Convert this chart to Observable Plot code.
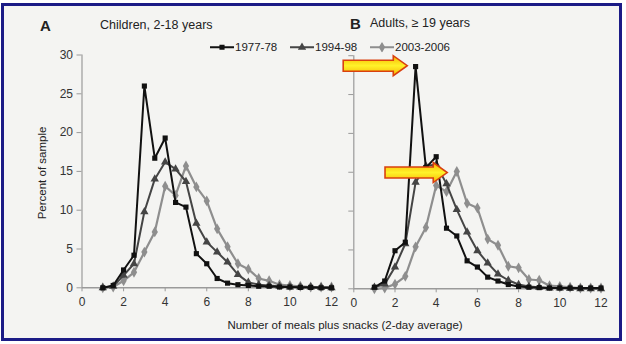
<!DOCTYPE html>
<html><head><meta charset="utf-8">
<script src="https://cdn.jsdelivr.net/npm/d3@7"></script>
<script src="https://cdn.jsdelivr.net/npm/@observablehq/plot@0.6"></script>
<style>
html,body{margin:0;padding:0;background:#fff;}
#wrap{position:relative;width:626px;height:344px;overflow:hidden;font-family:"Liberation Sans",Arial,sans-serif;color:#222;}
#frame{position:absolute;left:1px;top:3px;width:615px;height:332px;border:3px solid #1b1b86;background:#f4f4f2;}
.abs{position:absolute;white-space:nowrap;line-height:1;transform:translateY(-50%);}
.plot{position:absolute;left:0;top:0;}
.leg{display:inline-flex;align-items:center;}
</style></head><body>
<div id="wrap">
<div id="frame"></div>
<div id="pa" class="plot"></div>
<div id="pb" class="plot"></div>
<div class="abs" style="left:40px;top:25px;font-weight:bold;font-size:15px;">A</div>
<div class="abs" style="left:100px;top:25px;font-size:12.5px;">Children, 2-18 years</div>
<div class="abs" style="left:350px;top:23px;font-weight:bold;font-size:15px;">B</div>
<div class="abs" style="left:370px;top:23px;font-size:12.5px;">Adults, ≥ 19 years</div>
<div id="legend"></div>
<div class="abs" style="left:43px;top:173px;font-size:11.5px;transform:translate(-50%,-50%) rotate(-90deg);">Percent of sample</div>
<div class="abs" style="left:345px;top:326px;font-size:11.5px;transform:translate(-50%,-50%);">Number of meals plus snacks (2-day average)</div>
</div>
<script>
// x: number of meals plus snacks (2-day average)
const mealsX = [1,1.5,2,2.5,3,3.5,4,4.5,5,5.5,6,6.5,7,7.5,8,8.5,9,9.5,10,10.5,11,11.5,12];
const seriesNames = ["1977-78","1994-98","2003-2006"];
// Panel A: Children, 2-18 years (percent of sample)
const childA1977 = [0,0.3,2.3,4.2,26.0,16.7,19.3,11.0,10.4,4.4,3.1,1.2,0.6,0.4,0.3,0.2,0.2,0.1,0.1,0.05,0.05,0,0];
const childA1994 = [0,0.2,1.6,3.1,9.8,14.0,16.2,15.3,13.7,8.3,5.9,4.6,3.3,1.7,0.7,0.4,0.3,0.2,0.1,0.1,0.1,0.05,0];
const childA2003 = [0,0.1,0.9,2.0,4.6,7.2,13.1,11.9,15.7,13.0,11.2,7.6,5.3,3.1,2.4,1.2,0.9,0.4,0.3,0.2,0.1,0.1,0.1];
// Panel B: Adults, >= 19 years
const adultB1977 = [0.2,1.0,4.9,6.0,28.6,15.6,17.0,7.8,6.8,3.6,2.8,1.5,1.0,0.55,0.3,0.2,0.15,0.1,0.1,0.1,0.1,0.1,0.1];
const adultB1994 = [0.2,0.6,2.8,5.8,13.7,15.8,16.0,13.5,10.2,7.3,4.9,3.3,1.9,1.1,0.55,0.3,0.2,0.1,0.1,0.05,0,0,0];
const adultB2003 = [0,0.1,0.6,1.6,5.4,7.9,13.3,12.5,15.1,11.0,10.4,6.4,5.6,2.9,2.7,1.2,1.1,0.4,0.3,0.2,0.1,0.1,0.1];
const yTicks = [0,5,10,15,20,25,30];
const xTicks = [0,2,4,6,8,10,12];
// annotation arrows in panel B (data coordinates)
const arrowTailX = [-0.49, 1.54];
const arrowTipX = [2.62, 4.56];
const arrowY = [28.65, 14.9];

const styles = {
  "1977-78": {color:"#111", symbol:"square", r:2.9, width:2},
  "1994-98": {color:"#454545", symbol:"triangle", r:3.1, width:2},
  "2003-2006": {color:"#8e8e8e", symbol:"diamond", r:3.3, width:2.2}
};

function rows(vals){ return mealsX.map((x,i)=>({x, y: vals[i]})); }

function seriesMarks(data) {
  const out = [];
  for (const name of ["2003-2006","1994-98","1977-78"]) {
    const s = styles[name], d = rows(data[name]);
    out.push(Plot.line(d, {x:"x", y:"y", stroke:s.color, strokeWidth:s.width}));
    out.push(Plot.dot(d, {x:"x", y:"y", symbol:s.symbol, r:s.r, fill:s.color, stroke:"none"}));
  }
  return out;
}

function arrowMark() {
  return (index, scales) => {
    const g = d3.create("svg:g");
    const defs = g.append("defs");
    const grad = defs.append("linearGradient").attr("id","arrowGrad").attr("x1",0).attr("y1",0).attr("x2",0).attr("y2",1);
    grad.append("stop").attr("offset","0%").attr("stop-color","#f7b500");
    grad.append("stop").attr("offset","50%").attr("stop-color","#fff22a");
    grad.append("stop").attr("offset","100%").attr("stop-color","#f7b500");
    for (let i = 0; i < arrowTailX.length; i++) {
      const x1 = scales.x(arrowTailX[i]), x2 = scales.x(arrowTipX[i]), y = scales.y(arrowY[i]);
      const bh = 5.5, hh = 10, hl = 14, hx = x2 - hl;
      const d = `M${x1},${y-bh}L${hx},${y-bh}L${hx},${y-hh}L${x2},${y}L${hx},${y+hh}L${hx},${y+bh}L${x1},${y+bh}Z`;
      g.append("path").attr("d", d).attr("fill","url(#arrowGrad)").attr("stroke","#d9400f").attr("stroke-width",1.6).attr("stroke-linejoin","miter");
    }
    return g.node();
  };
}

function panel(data, m, showYText, extra) {
  return Plot.plot({
    width: 626, height: 344,
    marginLeft: m.l, marginRight: m.r, marginTop: m.t, marginBottom: m.b,
    x: {domain:[0,12]}, y: {domain:[0,30]},
    style: {background:"transparent", fontFamily:"'Liberation Sans', Arial, sans-serif", fontSize:"12px", overflow:"visible"},
    marks: [
      Plot.ruleX([0], {y1:0, y2:30, stroke:"#9a9a9a", strokeWidth:1.2}),
      Plot.ruleY([0], {x1:0, x2:12, stroke:"#9a9a9a", strokeWidth:1.5}),
      Plot.axisY(yTicks, {tickSize:5, tickPadding:4, label:null, stroke:"#9a9a9a", fill: showYText ? "#333" : "none"}),
      Plot.axisX(xTicks, {tickSize:4, tickPadding:6, label:null, stroke:"#9a9a9a", fill:"#333"}),
      ...seriesMarks(data),
      ...(extra || [])
    ]
  });
}

document.getElementById("pa").append(panel(
  {"1977-78":childA1977, "1994-98":childA1994, "2003-2006":childA2003},
  {l:81.5, r:295, t:54.5, b:56.7}, true));
document.getElementById("pb").append(panel(
  {"1977-78":adultB1977, "1994-98":adultB1994, "2003-2006":adultB2003},
  {l:353.3, r:25.5, t:55.2, b:55.7}, false, [arrowMark()]));

// legend
const legendLeft = [210, 290, 370];
const legend = document.getElementById("legend");
seriesNames.forEach((name, i) => {
  const s = styles[name];
  const div = document.createElement("div");
  div.className = "abs leg";
  div.style.left = legendLeft[i] + "px";
  div.style.top = "47.5px";
  div.style.fontSize = "11.5px";
  const svg = d3.create("svg").attr("width", 24).attr("height", 10).style("margin-right","1px");
  svg.append("line").attr("x1",0).attr("x2",24).attr("y1",5).attr("y2",5).attr("stroke",s.color).attr("stroke-width",2);
  svg.append("path").attr("transform","translate(12,5)").attr("d", d3.symbol(
    s.symbol === "square" ? d3.symbolSquare : s.symbol === "triangle" ? d3.symbolTriangle : d3.symbolDiamond, Math.PI*s.r*s.r)())
    .attr("fill", s.color);
  div.append(svg.node());
  const span = document.createElement("span");
  span.textContent = name;
  div.append(span);
  legend.append(div);
});
</script>
</body></html>
